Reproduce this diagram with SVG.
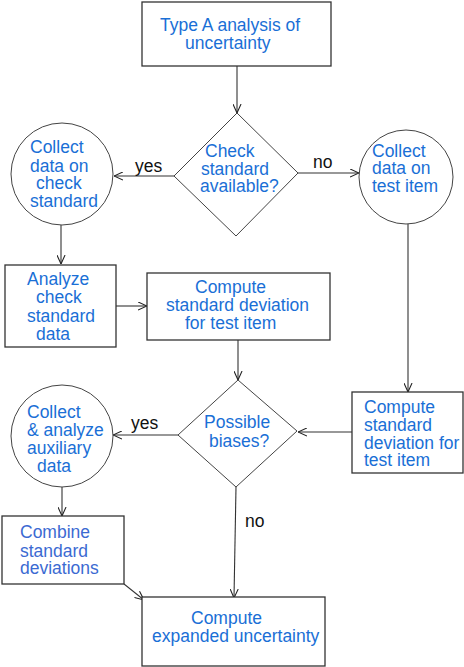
<svg xmlns="http://www.w3.org/2000/svg" width="464" height="667" viewBox="0 0 464 667">
<defs>
<style>
.box{fill:#fff;stroke:#333;stroke-width:1.3}
.dia{fill:#fff;stroke:#444;stroke-width:1}
.t{font-family:"Liberation Sans",Arial,sans-serif;font-size:17.5px;fill:#1a6fd6}
.t2{font-family:"Liberation Sans",Arial,sans-serif;font-size:17.5px;fill:#3b6ad2}
.lab{font-family:"Liberation Sans",Arial,sans-serif;font-size:17.5px;fill:#111}
.c{fill:none;stroke:#333;stroke-width:1.1}
</style>
<marker id="arr" viewBox="0 0 10 10" refX="10" refY="5" markerWidth="9" markerHeight="9" orient="auto" markerUnits="userSpaceOnUse">
<path d="M0,0.5 L10,5 L0,9.5" fill="none" stroke="#222" stroke-width="1.2"/>
</marker>
</defs>
<rect width="464" height="667" fill="#fff"/>

<g id="connectors">
<line class="c" x1="237" y1="66" x2="237" y2="113" marker-end="url(#arr)"/>
<line class="c" x1="174" y1="176" x2="114" y2="176" marker-end="url(#arr)"/>
<line class="c" x1="298" y1="173" x2="359" y2="173" marker-end="url(#arr)"/>
<line class="c" x1="61" y1="225" x2="61" y2="264" marker-end="url(#arr)"/>
<line class="c" x1="116" y1="306" x2="147" y2="306" marker-end="url(#arr)"/>
<line class="c" x1="238" y1="340" x2="238" y2="380" marker-end="url(#arr)"/>
<line class="c" x1="408" y1="224" x2="408" y2="392" marker-end="url(#arr)"/>
<line class="c" x1="352" y1="432" x2="298" y2="432" marker-end="url(#arr)"/>
<line class="c" x1="178" y1="435" x2="113" y2="435" marker-end="url(#arr)"/>
<line class="c" x1="62" y1="486" x2="62" y2="516" marker-end="url(#arr)"/>
<line class="c" x1="124" y1="584" x2="144" y2="600" marker-end="url(#arr)"/>
<line class="c" x1="236" y1="487" x2="234" y2="598" marker-end="url(#arr)"/>
<text class="lab" x="135" y="172">yes</text>
<text class="lab" x="313" y="168">no</text>
<text class="lab" x="131" y="429">yes</text>
<text class="lab" x="245" y="527">no</text>
</g>

<g id="n_typeA">
<rect class="box" x="142" y="2" width="189" height="64"/>
<text class="t" x="160" y="31">Type A analysis of</text>
<text class="t" x="185" y="49">uncertainty</text>
</g>

<g id="n_checkAvail">
<polygon class="dia" points="237,113 298,173 236,236 174,176"/>
<text class="t" x="205" y="157">Check</text>
<text class="t" x="201" y="175">standard</text>
<text class="t" x="200" y="192">available?</text>
</g>

<g id="n_collectCheck">
<circle class="dia" cx="62" cy="174" r="51"/>
<text class="t" x="30" y="153">Collect</text>
<text class="t" x="30" y="172">data on</text>
<text class="t" x="36" y="189">check</text>
<text class="t" x="30" y="207">standard</text>
</g>

<g id="n_collectTest">
<circle class="dia" cx="406" cy="177" r="47"/>
<text class="t" x="372" y="157">Collect</text>
<text class="t" x="372" y="174">data on</text>
<text class="t" x="372" y="192">test item</text>
</g>

<g id="n_analyze">
<rect class="box" x="5" y="265" width="111" height="82"/>
<text class="t" x="27" y="285">Analyze</text>
<text class="t" x="36" y="303">check</text>
<text class="t" x="27" y="322">standard</text>
<text class="t" x="36" y="340">data</text>
</g>

<g id="n_computeSD1">
<rect class="box" x="147" y="273" width="183" height="67"/>
<text class="t" x="195" y="293">Compute</text>
<text class="t" x="166" y="311">standard deviation</text>
<text class="t" x="185" y="329">for test item</text>
</g>

<g id="n_biases">
<polygon class="dia" points="238,380 297,431 236,487 178,435"/>
<text class="t" x="204" y="428">Possible</text>
<text class="t" x="209" y="447">biases?</text>
</g>

<g id="n_computeSD2">
<rect class="box" x="352" y="392" width="111" height="81"/>
<text class="t" x="364" y="413">Compute</text>
<text class="t" x="364" y="431">standard</text>
<text class="t" x="364" y="449">deviation for</text>
<text class="t" x="364" y="466">test item</text>
</g>

<g id="n_auxiliary">
<circle class="dia" cx="62" cy="436" r="51"/>
<text class="t" x="27" y="418">Collect</text>
<text class="t" x="27" y="436">&amp; analyze</text>
<text class="t" x="27" y="454">auxiliary</text>
<text class="t" x="37" y="472">data</text>
</g>

<g id="n_combine">
<rect class="box" x="2" y="516" width="122" height="68"/>
<text class="t2" x="20" y="538">Combine</text>
<text class="t2" x="20" y="557">standard</text>
<text class="t2" x="20" y="574">deviations</text>
</g>

<g id="n_expanded">
<rect class="box" x="142" y="597" width="183" height="69"/>
<text class="t" x="191" y="624">Compute</text>
<text class="t" x="152" y="642">expanded uncertainty</text>
</g>
</svg>
